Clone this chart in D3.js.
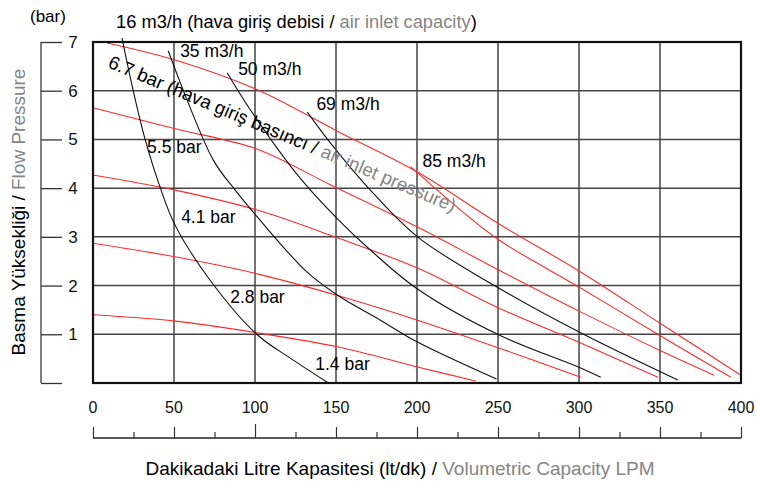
<!DOCTYPE html>
<meta charset="utf-8">
<style>
body { margin: 0; background: #fff; }
svg { display: block; font-family: "Liberation Sans", Arial, Helvetica, sans-serif; }
.grid line { stroke: #444; stroke-width: 1.5; }
.frame { fill: none; stroke: #111; stroke-width: 2.2; }
.press { fill: none; stroke: #ff2a2a; stroke-width: 1.1; }
.air { fill: none; stroke: #111; stroke-width: 1.1; }
.gray { fill: #858585; }
</style>
<svg width="757" height="485" id="chart"></svg>
<script src="https://d3js.org/d3.v7.min.js"></script>
<script>
// tick values
var flowTicks = [0, 50, 100, 150, 200, 250, 300, 350, 400];
var pressTicks = [1, 2, 3, 4, 5, 6, 7];

// red lines: constant air inlet pressure [flow lt/dk, pressure bar]
var bar67 = [[8.7,6.98],[50.7,6.63],[101.4,6.02],[150.8,5.17],[200.3,4.33],[250.4,3.27],[301,2.28],[351.7,1.19],[400,0.16]];
var bar55 = [[0,5.65],[50.7,5.22],[101.4,4.80],[146.5,4.07],[200.3,3.20],[250.4,2.32],[301,1.46],[351.7,0.64],[383.3,0.16]];
var bar41 = [[0,4.27],[50.7,3.96],[101.4,3.55],[150.8,2.98],[200.3,2.36],[250.4,1.54],[301,0.82],[348.7,0.12]];
var bar28 = [[0,2.87],[50.7,2.59],[101.4,2.24],[151.5,1.79],[200.3,1.29],[250.4,0.72],[301,0.12]];
var bar14 = [[0,1.40],[50.7,1.27],[101.4,1.03],[151.5,0.74],[200.3,0.33],[236.2,0.04]];

// black lines: constant air consumption
var m16 = [[17.9,7.08],[24.7,6.02],[32.1,5.01],[41.4,4.02],[50.7,3.24],[72.3,2.11],[101.4,0.99],[121.8,0.51],[145.3,0]];
var m35 = [[46.4,6.82],[74.2,4.58],[87.8,3.96],[101.4,3.41],[132.0,2.28],[151.5,1.79],[177.4,1.29],[200.3,0.84],[249.1,0.08]];
var m50 = [[82.8,6.37],[97.1,5.61],[128,4.20],[151.5,3.35],[171.2,2.73],[200.3,1.93],[250.4,0.99],[301,0.31],[313.4,0.12]];
var m69 = [[132.3,5.56],[146.5,4.93],[171.2,3.96],[200.3,3.00],[250.4,1.95],[301,1.03],[361,0.06]];
var m85 = [[196,4.44],[226.9,3.55],[250.4,2.94],[301,1.95],[351.7,0.94],[393.8,0.12]];

var pressLabels = ["5.5 bar", "4.1 bar", "2.8 bar", "1.4 bar"];
var airLabels = ["35 m3/h", "50 m3/h", "69 m3/h", "85 m3/h"];

var svg = d3.select("#chart");

var x = d3.scaleLinear().domain([0, 400]).range([93, 741]);
var y = d3.scaleLinear().domain([0, 7]).range([383, 42]);

// grid
var grid = svg.append("g").attr("class", "grid");
grid.selectAll(".v").data(flowTicks.slice(1, -1)).enter().append("line")
    .attr("x1", d => x(d)).attr("x2", d => x(d))
    .attr("y1", y(7)).attr("y2", y(0));
grid.selectAll(".h").data(pressTicks.slice(0, -1)).enter().append("line")
    .attr("x1", x(0)).attr("x2", x(400))
    .attr("y1", d => y(d)).attr("y2", d => y(d));

// curves
var line = d3.line().x(d => x(d[0])).y(d => y(d[1])).curve(d3.curveCatmullRom.alpha(0.5));

svg.append("g").selectAll("path")
    .data([bar67, bar55, bar41, bar28, bar14, m85])
    .enter().append("path").attr("class", "press").attr("d", line);

svg.append("g").selectAll("path")
    .data([m16, m35, m50, m69])
    .enter().append("path").attr("class", "air").attr("d", line);

svg.append("rect").attr("class", "frame")
    .attr("x", x(0)).attr("y", y(7))
    .attr("width", x(400) - x(0)).attr("height", y(0) - y(7));

// left axis (detached)
var yAxis = d3.axisRight(y).tickValues([0].concat(pressTicks)).tickSize(21).tickFormat(d => d === 0 ? "" : d);
var ya = svg.append("g").attr("transform", "translate(41,0)").call(yAxis);
ya.select(".domain").attr("stroke", "#555").attr("stroke-width", 1.5).attr("d", "M0," + y(0) + "V" + y(7));
ya.selectAll(".tick line").attr("stroke", "#333").attr("stroke-width", 1.3);
ya.selectAll(".tick text").attr("x", 32).attr("text-anchor", "middle")
    .attr("font-size", 17).attr("font-family", null).attr("fill", "#111");

// bottom axis (detached)
var xAxis = d3.axisTop(x).tickValues(d3.range(0, 401, 25)).tickSize(0).tickFormat("");
var xa = svg.append("g").attr("transform", "translate(0,438)").call(xAxis);
xa.select(".domain").attr("stroke", "#222").attr("stroke-width", 1.3).attr("d", "M" + x(0) + ",0H" + x(400));
xa.selectAll(".tick line").attr("stroke", "#333").attr("stroke-width", 1.2)
    .attr("y2", d => d === 100 ? -14 : (d % 50 === 0 ? -11 : -6));

svg.append("g").selectAll("text").data(flowTicks).enter().append("text")
    .attr("x", d => x(d)).attr("y", 413)
    .attr("text-anchor", "middle").attr("font-size", 16).attr("fill", "#111")
    .text(d => d);

// titles
svg.append("text").attr("x", 30).attr("y", 22).attr("font-size", 17).text("(bar)");

var t1 = svg.append("text").attr("x", 116).attr("y", 28).attr("font-size", 18.3);
t1.append("tspan").text("16 m3/h (hava giriş debisi / ");
t1.append("tspan").attr("class", "gray").text("air inlet capacity");
t1.append("tspan").text(")");

var xt = svg.append("text").attr("x", 400).attr("y", 475).attr("text-anchor", "middle").attr("font-size", 19);
xt.append("tspan").text("Dakikadaki Litre Kapasitesi (lt/dk) / ");
xt.append("tspan").attr("class", "gray").text("Volumetric Capacity LPM");

var yt = svg.append("text").attr("transform", "translate(25,212) rotate(-90)")
    .attr("text-anchor", "middle").attr("font-size", 19);
yt.append("tspan").text("Basma Yüksekliği / ");
yt.append("tspan").attr("class", "gray").text("Flow Pressure");

var rt = svg.append("text").attr("transform", "translate(107,67) rotate(22.8)").attr("font-size", 18.7);
rt.append("tspan").text("6.7 bar (hava giriş basıncı / ");
rt.append("tspan").attr("class", "gray").text("air inlet pressure)");

// curve labels
var pressPos = [[33.4,4.72],[54.4,3.29],[84.7,1.64],[137.2,0.27]];
var airPos = [[53.8,6.69],[89.6,6.32],[137.9,5.61],[203.4,4.44]];

svg.append("g").selectAll("text").data(pressLabels).enter().append("text")
    .attr("x", (d, i) => x(pressPos[i][0])).attr("y", (d, i) => y(pressPos[i][1]))
    .attr("font-size", 17.5).text(d => d);

svg.append("g").selectAll("text").data(airLabels).enter().append("text")
    .attr("x", (d, i) => x(airPos[i][0])).attr("y", (d, i) => y(airPos[i][1]))
    .attr("font-size", 17.5).text(d => d);
</script>
